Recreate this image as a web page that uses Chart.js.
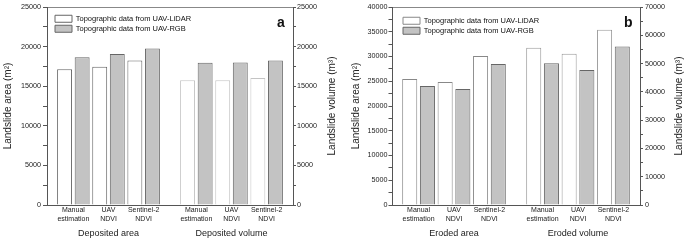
<!DOCTYPE html>
<html>
<head>
<meta charset="utf-8">
<script src="https://cdn.jsdelivr.net/npm/chart.js@4.4.0/dist/chart.umd.min.js"></script>
<style>
  html, body { margin: 0; padding: 0; background: #fff; }
  #wrap { position: relative; width: 685px; height: 240px; }
  .panel { position: absolute; top: 0; height: 240px; }
  #panelA { left: 0; width: 342px; }
  #panelB { left: 342px; width: 343px; }
</style>
</head>
<body>
<div id="wrap">
  <div class="panel" id="panelA"><canvas id="chartA" width="342" height="240"></canvas></div>
  <div class="panel" id="panelB"><canvas id="chartB" width="343" height="240"></canvas></div>
</div>
<script>
/* ===========================================
   DATA
=========================================== */
const methods = ["Manual estimation", "UAV NDVI", "Sentinel-2 NDVI"];
const seriesNames = ["Topographic data from UAV-LiDAR", "Topographic data from UAV-RGB"];

// panel a
const depositedGroups = ["Deposited area", "Deposited volume"];
const depositedAreaLidar = [17150, 17450, 18250];
const depositedAreaRgb = [18650, 19050, 19750];
const depositedVolumeLidar = [15750, 15750, 16050];
const depositedVolumeRgb = [17950, 18000, 18250];
const depositedAreaTicks = [0, 5000, 10000, 15000, 20000, 25000];
const depositedVolumeTicks = [0, 5000, 10000, 15000, 20000, 25000];

// panel b
const erodedGroups = ["Eroded area", "Eroded volume"];
const erodedAreaLidar = [25450, 24850, 30100];
const erodedAreaRgb = [24050, 23450, 28500];
const erodedVolumeLidar = [55600, 53500, 62000];
const erodedVolumeRgb = [50100, 47700, 56000];
const erodedAreaTicks = [0, 5000, 10000, 15000, 20000, 25000, 30000, 35000, 40000];
const erodedVolumeTicks = [0, 10000, 20000, 30000, 40000, 50000, 60000, 70000];


/* ===========================================
   LAYOUT (slots on the x scale: area group, gap, volume group)
=========================================== */
const slotX = [3, 7, 11, 17, 21, 25];
const slotMax = 28;
const FONT = '"Liberation Sans", Arial, sans-serif';
const AXIS = "#555";
const GREY = "#c3c3c3";

Chart.defaults.font.family = FONT;
Chart.defaults.color = "#222";

const onArea = vals => slotX.map((x, i) => ({ x: x, y: i < 3 ? vals[i] : null }));
const onVolume = vals => slotX.map((x, i) => ({ x: x, y: i >= 3 ? vals[i - 3] : null }));


/* ===========================================
   PLUGINS
=========================================== */
// moves the legend inside the plot, top-left
const legendInside = {
    id: "legendInside",
    afterLayout(chart, args, opts) {
        const lg = chart.legend;
        const ca = chart.chartArea;
        if (!lg) return;
        const pad = lg.options.labels.padding;
        lg.left = ca.left + opts.dx - pad;
        lg.top = ca.top + opts.dy - pad;
        lg.right = ca.right;
        lg.bottom = ca.bottom;
        lg.width = lg.right - lg.left;
        lg.height = lg.bottom - lg.top;
    }
};

// panel letter + right axis title (reads bottom to top)
const panelText = {
    id: "panelText",
    afterDraw(chart, args, opts) {
        const ctx = chart.ctx;
        const ca = chart.chartArea;
        ctx.save();
        ctx.fillStyle = "#111";
        ctx.font = "bold 14px " + FONT;
        ctx.textAlign = "left";
        ctx.textBaseline = "alphabetic";
        ctx.fillText(opts.letter, ca.right - 16, ca.top + 20);

        ctx.translate(opts.titleX, (ca.top + ca.bottom) / 2);
        ctx.rotate(-Math.PI / 2);
        ctx.font = "10px " + FONT;
        ctx.fillStyle = "#222";
        ctx.textAlign = "center";
        ctx.textBaseline = "middle";
        ctx.fillText(opts.rightTitle, 0, 0);
        ctx.restore();
    }
};


/* ===========================================
   CHART BUILDER
=========================================== */
function yAxis(position, ticks, width, tickLen, tickPad, title, titlePad) {
    const step = ticks[1] - ticks[0];
    return {
        position: position,
        min: 0,
        max: ticks[ticks.length - 1],
        ticks: {
            stepSize: step / 2,
            maxTicksLimit: 100,
            autoSkip: false,
            padding: tickPad,
            font: { size: 7.2 },
            callback: v => ticks.includes(v) ? String(v) : ""
        },
        grid: { drawOnChartArea: false, tickLength: tickLen, color: AXIS },
        border: { color: AXIS },
        title: title ? {
            display: true,
            text: title,
            font: { size: 10 },
            padding: { top: titlePad, bottom: 0 }
        } : { display: false },
        afterFit: s => { s.width = width; }
    };
}

function makeChart(id, cfg) {
    const datasets = [
        { label: seriesNames[0], data: onArea(cfg.areaLidar), yAxisID: "y",
          backgroundColor: "#fff", borderColor: cfg.lidarAreaBorder },
        { label: seriesNames[1], data: onArea(cfg.areaRgb), yAxisID: "y",
          backgroundColor: GREY, borderColor: "#666" },
        { label: seriesNames[0], data: onVolume(cfg.volLidar), yAxisID: "y1",
          backgroundColor: "#fff", borderColor: cfg.lidarVolBorder },
        { label: seriesNames[1], data: onVolume(cfg.volRgb), yAxisID: "y1",
          backgroundColor: GREY, borderColor: "#666" }
    ];
    datasets.forEach(d => {
        d.xAxisID = "x";
        d.borderWidth = 1;
        d.skipNull = true;
        d.categoryPercentage = 1.0;
        d.barPercentage = 0.85;
    });

    return new Chart(document.getElementById(id), {
        type: "bar",
        data: { datasets: datasets },
        plugins: [legendInside, panelText],
        options: {
            responsive: false,
            animation: false,
            events: [],
            layout: { padding: { top: 7, bottom: 0, left: 0, right: 0 } },
            scales: {
                x: {
                    type: "linear", position: "bottom", weight: 0,
                    min: 0, max: slotMax, offset: false,
                    afterBuildTicks: s => { s.ticks = slotX.map(v => ({ value: v })); },
                    ticks: {
                        autoSkip: false, maxRotation: 0, minRotation: 0, padding: 1,
                        font: { size: 7, lineHeight: 1.25 },
                        callback: (v, i) => methods[i % 3].split(" ")
                    },
                    grid: { display: false, drawTicks: false },
                    border: { color: AXIS },
                    afterFit: s => { s.height = 18; }
                },
                x2: {
                    type: "linear", position: "bottom", weight: 1,
                    min: 0, max: slotMax, offset: false,
                    afterBuildTicks: s => { s.ticks = [slotX[1], slotX[4]].map(v => ({ value: v })); },
                    ticks: {
                        autoSkip: false, maxRotation: 0, minRotation: 0, padding: 5,
                        font: { size: 9 },
                        callback: (v, i) => cfg.groups[i]
                    },
                    grid: { display: false, drawTicks: false },
                    border: { display: false },
                    afterFit: s => { s.height = 17; }
                },
                xt: {
                    type: "linear", position: "top",
                    min: 0, max: slotMax, offset: false,
                    ticks: { display: false },
                    grid: { display: false, drawTicks: false },
                    border: { color: "#888" },
                    afterFit: s => { s.height = 0; }
                },
                y: yAxis("left", cfg.areaTicks, cfg.leftWidth, cfg.leftTick, cfg.leftPad,
                         "Landslide area (m\u00b2)", cfg.leftTitlePad),
                y1: yAxis("right", cfg.volTicks, cfg.rightWidth, 3, cfg.rightPad, null, 0)
            },
            plugins: {
                tooltip: { enabled: false },
                legend: {
                    position: "chartArea",
                    align: "start",
                    labels: {
                        boxWidth: 17,
                        boxHeight: 7,
                        padding: 2.5,
                        color: "#111",
                        textAlign: "left",
                        font: { size: 7.5 },
                        filter: item => item.datasetIndex < 2
                    }
                },
                legendInside: { dx: cfg.legendDx, dy: cfg.legendDy },
                panelText: { letter: cfg.letter, titleX: cfg.rightTitleX, rightTitle: "Landslide volume (m\u00b3)" }
            }
        }
    });
}


/* ===========================================
   PANELS
=========================================== */
makeChart("chartA", {
    groups: depositedGroups,
    areaLidar: depositedAreaLidar, areaRgb: depositedAreaRgb,
    volLidar: depositedVolumeLidar, volRgb: depositedVolumeRgb,
    areaTicks: depositedAreaTicks, volTicks: depositedVolumeTicks,
    lidarAreaBorder: "#666", lidarVolBorder: "#c4c4c4",
    leftWidth: 47, rightWidth: 49, leftTick: 4, leftPad: 2, rightPad: 1,
    leftTitlePad: 2.5, rightTitleX: 332,
    legendDx: 8, legendDy: 8, letter: "a"
});

makeChart("chartB", {
    groups: erodedGroups,
    areaLidar: erodedAreaLidar, areaRgb: erodedAreaRgb,
    volLidar: erodedVolumeLidar, volRgb: erodedVolumeRgb,
    areaTicks: erodedAreaTicks, volTicks: erodedVolumeTicks,
    lidarAreaBorder: "#888", lidarVolBorder: "#9a9a9a",
    leftWidth: 50, rightWidth: 45, leftTick: 3.5, leftPad: 1, rightPad: 2,
    leftTitlePad: 8.5, rightTitleX: 337,
    legendDx: 11, legendDy: 10, letter: "b"
});
</script>
</body>
</html>
